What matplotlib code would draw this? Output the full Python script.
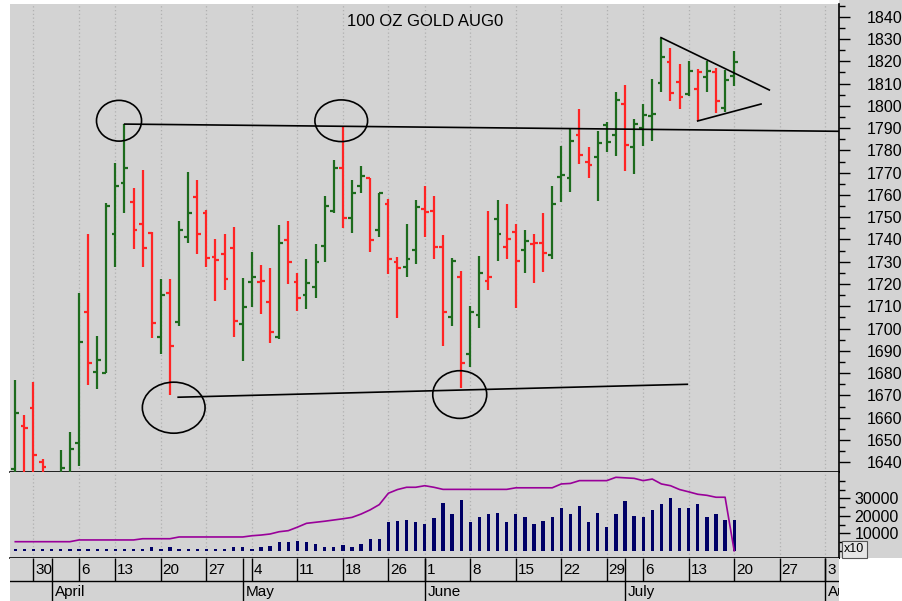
import numpy as np
import pandas as pd
import matplotlib
matplotlib.use('Agg')
import matplotlib.pyplot as plt
from matplotlib.patches import Ellipse, Rectangle
from matplotlib.ticker import MultipleLocator

plt.rcParams['font.family'] = ['Liberation Sans', 'DejaVu Sans']

# ---------------- data ----------------
title = "100 OZ GOLD AUG0"
holidays = ['2020-04-10', '2020-05-25', '2020-07-03']
first_day = '2020-03-26'
last_data_day = '2020-07-20'
last_axis_day = '2020-08-07'
month_names = ['April', 'May', 'June', 'July', 'August']

opens = [1637, 1656.4, 1664.2, 1640, 1600, 1628, 1630, 1648.5, 1707.6, 1680.7,
         1680.2, 1742.3, 1765.2, 1757, 1746.8, 1743, 1696.4, 1715.8, 1702.8, 1741,
         1759, 1751.8, 1732.3, 1733.5, 1736, 1702.1, 1720.8, 1721.1, 1712, 1696.4,
         1739.8, 1720.8, 1715.1, 1718.8, 1737.2, 1752.9, 1772.2, 1749.5, 1764.1, 1767.7,
         1744.3, 1755.9, 1729.8, 1727.8, 1735.3, 1753.5, 1752.9, 1736.8, 1705.4, 1723.3,
         1688.5, 1706.1, 1721.4, 1749.3, 1736.8, 1743.5, 1735.3, 1738, 1738.6, 1733,
         1768.2, 1767.7, 1786.9, 1774.9, 1777.2, 1791.4, 1786.9, 1800.8, 1781.7, 1790.2,
         1795.5, 1810.1, 1819.8, 1810.6, 1805.2, 1807.4, 1813.1, 1815.3, 1798.9, 1813.4]
highs = [1677, 1661, 1676, 1641.5, 1610, 1645.5, 1653.7, 1716.1, 1742.5, 1696.7,
         1756.5, 1774.2, 1791.8, 1763, 1771.2, 1743.2, 1722.1, 1722.1, 1748.4, 1770.4,
         1766.7, 1753.2, 1740.1, 1742.3, 1745.5, 1722.6, 1734.2, 1728.6, 1727.3, 1746.5,
         1748.4, 1724.8, 1731.1, 1738, 1759.7, 1775.7, 1790.7, 1766.7, 1773.1, 1767.7,
         1761, 1758.2, 1732.3, 1747, 1757.7, 1764.1, 1759.7, 1742, 1731.6, 1726,
         1710.2, 1732.6, 1752.8, 1757.7, 1755.8, 1746.8, 1744.3, 1742.3, 1752, 1764,
         1782, 1789.6, 1798.4, 1781.7, 1788.8, 1792.6, 1806.3, 1809.3, 1794, 1800.8,
         1812, 1830.6, 1826.1, 1818.6, 1820.1, 1816.4, 1820.1, 1817.1, 1816.1, 1824.6]
lows = [1625, 1625, 1625, 1625, 1585, 1620, 1625, 1638.5, 1674.7, 1672.8,
        1680, 1727.5, 1751.8, 1735.7, 1727.5, 1695.6, 1688.6, 1670.2, 1701.3, 1738.3,
        1733.4, 1727.5, 1712.4, 1717.3, 1696.4, 1685.6, 1709.6, 1706.4, 1693.4, 1695.2,
        1720, 1707.9, 1708.8, 1713.6, 1730, 1751.8, 1745.3, 1742.8, 1760.7, 1734.5,
        1741, 1724.4, 1704.6, 1723.3, 1728.9, 1741, 1731.1, 1692.3, 1701.3, 1673.5,
        1682.9, 1700.1, 1717.3, 1730.5, 1731.3, 1709.1, 1725.1, 1720.6, 1725.6, 1731.3,
        1756.7, 1761.2, 1773.9, 1767.5, 1757.4, 1779.4, 1777.6, 1770.7, 1769.4, 1782.1,
        1784.2, 1806.3, 1802.3, 1798.6, 1804.5, 1793.3, 1806.3, 1796.6, 1797.4, 1808.9]
closes = [1662, 1655.3, 1643.3, 1638, 1592, 1637.6, 1645.8, 1694.1, 1684.6, 1685.9,
          1755, 1764, 1772.2, 1744.3, 1736, 1702.4, 1715.1, 1692.2, 1744.3, 1752,
          1742.3, 1731.6, 1730.8, 1722.1, 1703.6, 1709.9, 1723.3, 1721.5, 1698.6, 1738.6,
          1729.8, 1713.9, 1720.3, 1729.8, 1755, 1772, 1749.5, 1761, 1768.6, 1739.8,
          1760.7, 1731.1, 1727.1, 1731.1, 1754.7, 1752.5, 1736.8, 1707.6, 1730.3, 1684.7,
          1707.6, 1724.8, 1723.3, 1742.3, 1740.4, 1730.3, 1739.1, 1738.6, 1734.1, 1755.8,
          1769, 1784.4, 1777.9, 1773.4, 1783.2, 1783.6, 1802.6, 1782.4, 1792, 1795.9,
          1796.2, 1821.8, 1805.9, 1803.8, 1815.6, 1815.2, 1815.5, 1802.3, 1811.6, 1819.8]
up = [1, 0, 0, 0, 0, 1, 1, 1, 0, 1,
      1, 1, 1, 0, 0, 0, 1, 0, 1, 1,
      0, 0, 0, 0, 0, 1, 1, 0, 0, 1,
      0, 0, 1, 1, 1, 1, 0, 1, 1, 0,
      1, 0, 0, 1, 1, 0, 0, 0, 1, 0,
      1, 1, 0, 1, 0, 0, 1, 0, 0, 1,
      1, 1, 0, 0, 1, 1, 1, 0, 1, 1,
      1, 1, 0, 0, 1, 0, 1, 0, 1, 1]
volume = [1300, 1300, 1300, 1300, 1300, 1300, 1300, 1300, 1300, 1300,
          1300, 1300, 1300, 1300, 1300, 2000, 1300, 2000, 1300, 1300,
          1300, 1300, 1300, 1300, 2000, 2000, 1300, 2000, 2500, 5300,
          5300, 5700, 5200, 3900, 2300, 2300, 3300, 2300, 3900, 6600,
          6600, 16300, 17000, 17600, 16300, 15300, 18600, 27500, 21000, 29000,
          16300, 19100, 21000, 21800, 16300, 21000, 19100, 15300, 17000, 19100,
          24300, 21000, 25800, 16300, 21800, 13800, 21000, 28500, 20000, 19100,
          23300, 26700, 30000, 24300, 24300, 26700, 19100, 21000, 17600, 17600]
open_interest = [5200, 5200, 5200, 5200, 5200, 5200, 5200, 6200, 6200, 6200,
                 6200, 6200, 6200, 6200, 6900, 6900, 6900, 6900, 7900, 7900,
                 7900, 7900, 7900, 7900, 7900, 7900, 8600, 9000, 9600, 10900,
                 11500, 13500, 15700, 16300, 16900, 17600, 18300, 19100, 21000, 23400,
                 26400, 32900, 35000, 36300, 36300, 37200, 36300, 35100, 35100, 35100,
                 35100, 35100, 35100, 35100, 35100, 36000, 36000, 36000, 36000, 36000,
                 38200, 38500, 40100, 40100, 40100, 40100, 42000, 41700, 41400, 40100,
                 41000, 38200, 37200, 35000, 33700, 32300, 31700, 30600, 30600, 0]

# hand-drawn annotations, in (trading-day index, price)
resistance_line = [(12.02, 1791.8), (92.0, 1788.5)]
support_line = [(17.9, 1669.2), (73.85, 1675.0)]
triangle_upper = [(70.96, 1830.6), (82.86, 1807.1)]
triangle_lower = [(74.99, 1793.2), (81.95, 1800.8)]
circles = [(11.40, 1793.3, 4.95, 18.3), (35.82, 1793.3, 5.79, 18.7),
           (17.41, 1664.5, 6.89, 22.9), (48.84, 1670.4, 5.93, 21.4)]

# ---------------- layout ----------------
BG = '#d3d3d3'
GREEN = '#1d6b1d'
RED = '#ff2424'
NAVY = '#000066'
PURPLE = '#990099'
GRID = '#b0b0b0'

axis_days = pd.bdate_range(first_day, last_axis_day).drop(pd.to_datetime(holidays))
x = np.arange(len(opens))
colors = [GREEN if u else RED for u in up]

week_pos = [i for i in range(1, len(axis_days))
            if axis_days[i].weekday() <= axis_days[i - 1].weekday()]
month_pos = [i for i in range(1, len(axis_days))
             if axis_days[i].month != axis_days[i - 1].month]

W, H = 902, 601
fig = plt.figure(figsize=(W / 100, H / 100), dpi=100, facecolor='white')
L, R = 10, 839.3
xl = (-0.58, 90.55)

# grey panel behind the right-hand scales
fig.add_artist(Rectangle((R / W, 1 - 558.3 / H), (W - R) / W, 558.3 / H,
                         transform=fig.transFigure, fc=BG, ec='none', zorder=-10))


def rect(top, bottom):
    return [L / W, 1 - bottom / H, (R - L) / W, (bottom - top) / H]


ax = fig.add_axes(rect(4, 472.3), facecolor=BG)
vax = fig.add_axes(rect(472.3, 558.3), facecolor=BG)
dax = fig.add_axes(rect(558.3, 601), facecolor=BG)

for a in (ax, vax, dax):
    a.set_xlim(*xl)
    for s in ('left', 'top'):
        a.spines[s].set_visible(False)
    a.tick_params(axis='x', which='both', bottom=False, labelbottom=False)

# price pane
ax.set_ylim(1635.5, 1845.7)
for w in week_pos:
    ax.axvline(w, color=GRID, lw=0.9, ls=(0, (1, 2)), zorder=0)
    vax.axvline(w, color=GRID, lw=0.9, ls=(0, (1, 2)), zorder=0)
ax.vlines(x, lows, highs, colors=colors, lw=1.6, zorder=3)
ax.hlines(opens, x - 0.42, x, colors=colors, lw=1.6, zorder=3)
ax.hlines(closes, x, x + 0.42, colors=colors, lw=1.6, zorder=3)

for line in (resistance_line, support_line, triangle_upper, triangle_lower):
    (x0, y0), (x1, y1) = line
    ax.plot([x0, x1], [y0, y1], color='black', lw=1.2, zorder=4)
for cx, cy, w, h in circles:
    ax.add_patch(Ellipse((cx, cy), w, h, fill=False, ec='black', lw=1.2, zorder=4))

ax.yaxis.tick_right()
ax.set_yticks(np.arange(1640, 1841, 10))
ax.yaxis.set_minor_locator(MultipleLocator(5))
ax.tick_params(axis='y', which='major', direction='out', length=8, width=1,
               pad=11.5, labelsize=11.5)
ax.tick_params(axis='y', which='minor', direction='out', length=4, width=1)
ax.spines['right'].set_linewidth(1.2)
ax.spines['bottom'].set_linewidth(1.2)
ax.text(0.5, 0.962, title, transform=ax.transAxes, ha='center', va='center',
        fontsize=12)

# volume pane
vax.set_ylim(-4286, 44857)
vax.bar(x, volume, width=0.36, color=NAVY, zorder=3)
vax.plot(x, open_interest, color=PURPLE, lw=1.2, zorder=4)
vax.yaxis.tick_right()
vax.set_yticks([10000, 20000, 30000])
vax.set_yticklabels(['10000', '20000', '30000'])
vax.yaxis.set_minor_locator(MultipleLocator(5000))
vax.tick_params(axis='y', which='major', direction='out', length=8, width=1,
                pad=3, labelsize=11.5)
vax.tick_params(axis='y', which='minor', direction='out', length=4, width=1)
vax.spines['right'].set_linewidth(1.2)
vax.spines['bottom'].set_linewidth(1.2)
fig.text(844 / W, 1 - 549 / H, 'x10', fontsize=9, ha='left', va='center',
         bbox=dict(boxstyle='square,pad=0.2', fc='#e6e6e6', ec='#555555', lw=0.8))

# date rows
dax.set_ylim(0, 1)
dax.set_yticks([])
for s in ('right', 'bottom'):
    dax.spines[s].set_visible(False)
split = 20 / 42.7
dax.axhline(split, color='black', lw=1)
for w in week_pos:
    dax.vlines(w, split, 1, color='black', lw=1)
    dax.text(w + 0.2, 0.73, str(axis_days[w].day), ha='left', va='center',
             fontsize=11, clip_on=True)
for k, m in enumerate(month_pos):
    dax.vlines(m, 0, 1, color='black', lw=1)
    dax.text(m + 0.33, 0.2, month_names[k], ha='left', va='center',
             fontsize=11, clip_on=True)

fig.savefig('out.png', dpi=100, facecolor='white')
